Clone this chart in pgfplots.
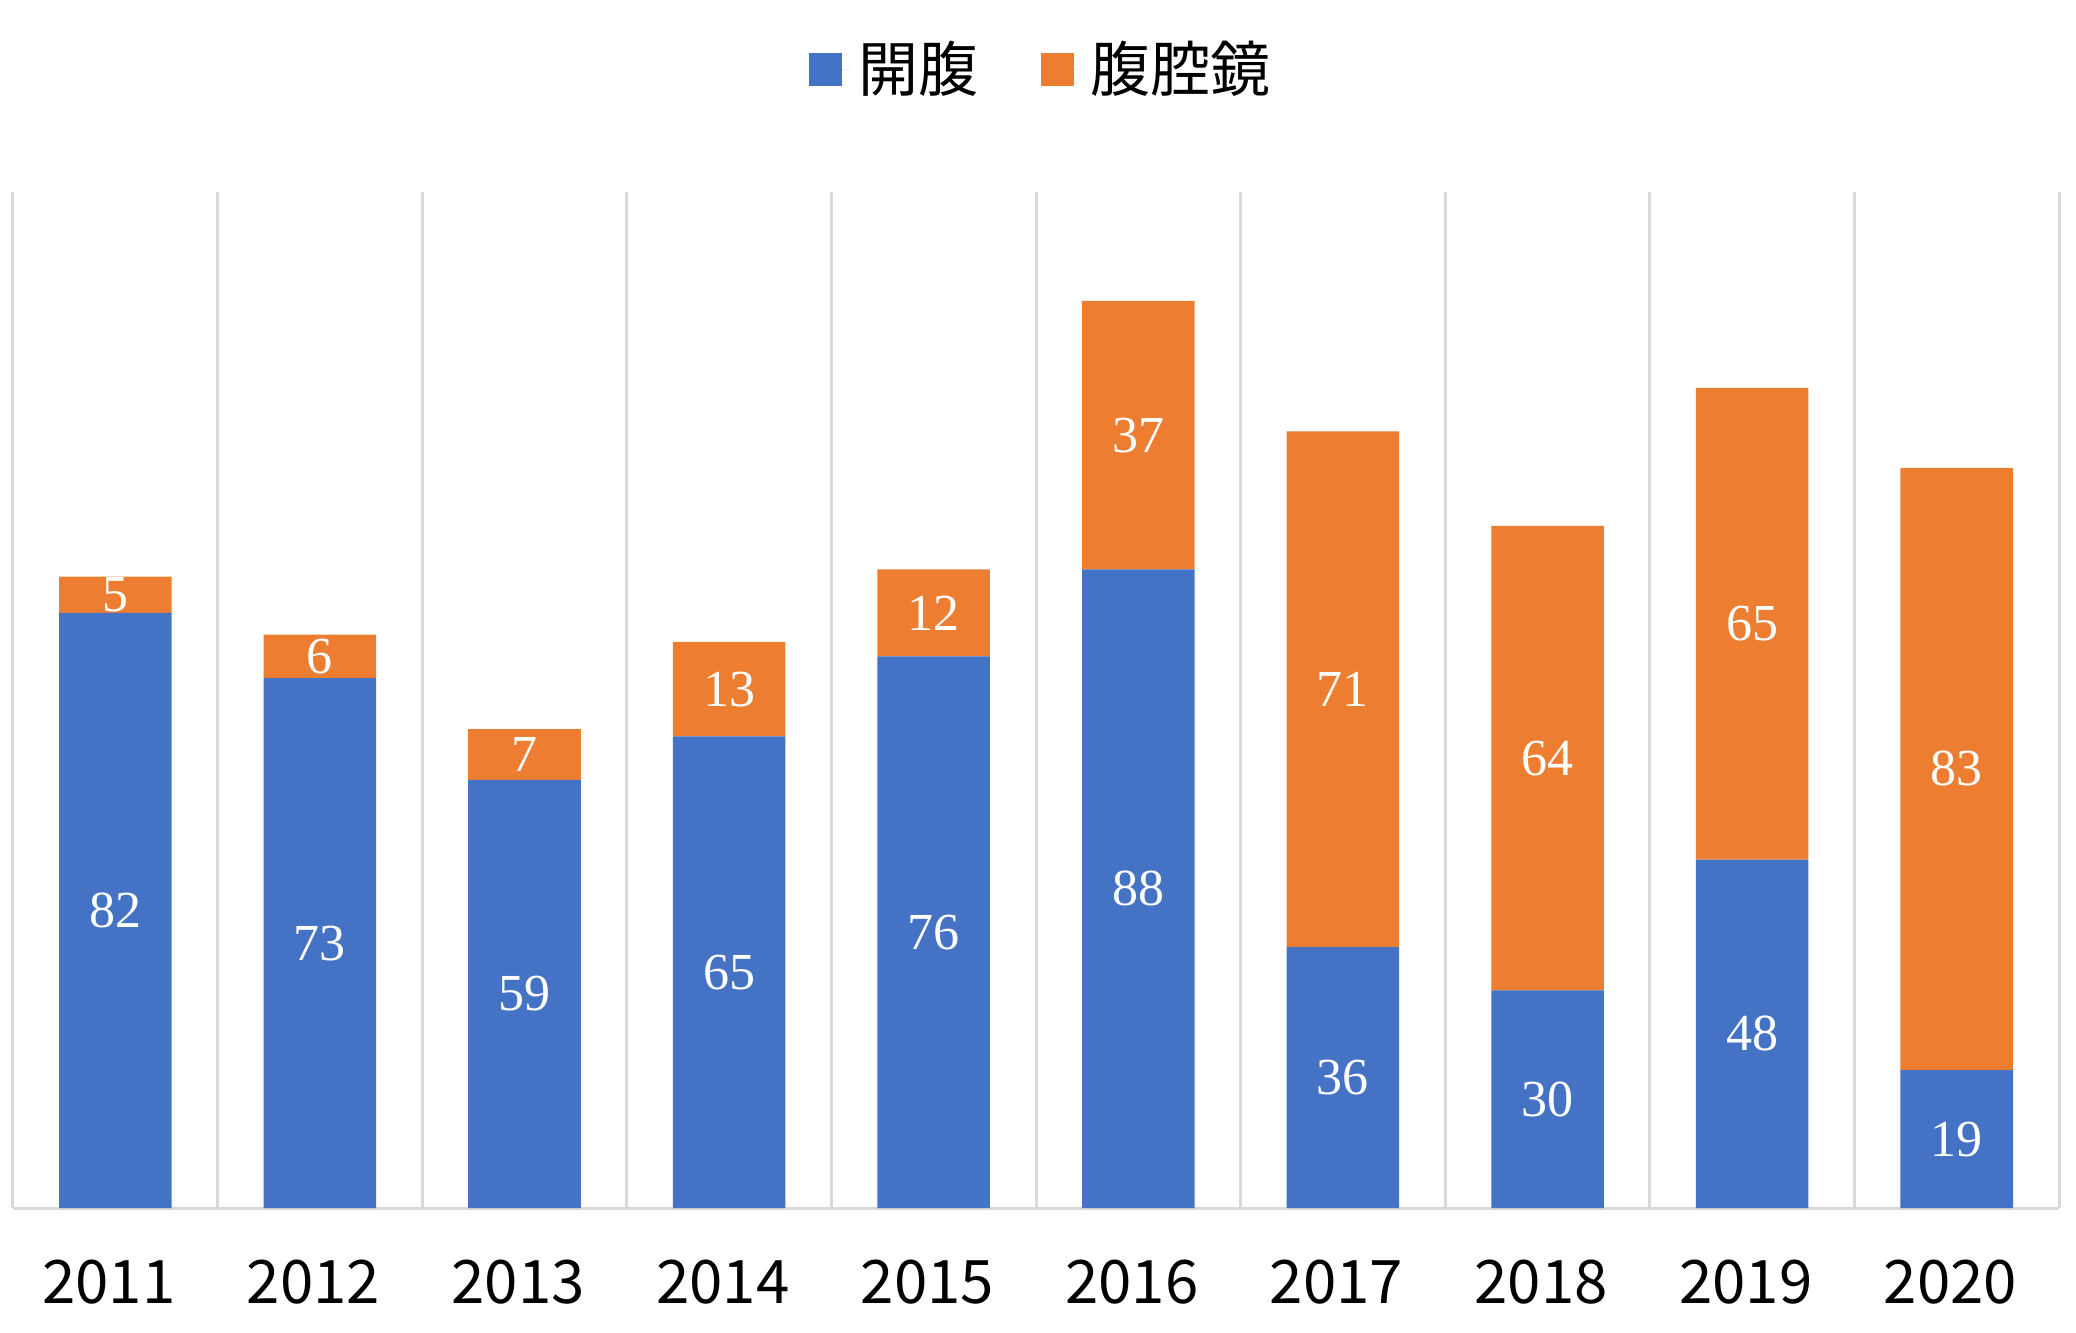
\documentclass[border=0pt]{standalone}
\usepackage{fontspec}
\setmainfont{Noto Sans CJK JP}
\newfontfamily\numfont{Liberation Serif}
\usepackage{pgfplots}
\usepackage{pgfplotstable}
\pgfplotsset{compat=1.18}
\definecolor{kaifuku}{HTML}{4472C4}
\definecolor{fukukuu}{HTML}{ED7D31}
\definecolor{gridgray}{HTML}{D9D9D9}

\pgfplotstableread{
x year open lap
0 2011 82 5
1 2012 73 6
2 2013 59 7
3 2014 65 13
4 2015 76 12
5 2016 88 37
6 2017 36 71
7 2018 30 64
8 2019 48 65
9 2020 19 83
}\surgdata

\begin{document}
\begin{tikzpicture}
\useasboundingbox (-3.25pt,-31pt) rectangle (515.75pt,302pt);
\begin{axis}[
  scale only axis, width=511.5pt, height=254pt,
  ybar stacked, bar width=0.55,
  xmin=-0.5, xmax=9.5, ymin=0, ymax=140,
  xtick={0,...,9},
  xticklabels={2011,2012,2013,2014,2015,2016,2017,2018,2019,2020},
  major tick length=0pt, minor tick length=0pt,
  minor xtick={-0.5,0.5,...,9.5},
  xminorgrids,
  minor grid style={gridgray, line width=0.75pt},
  ytick=\empty,
  axis x line*=bottom, axis y line=none,
  x axis line style={gridgray, line width=0.75pt, -},
  xticklabel style={font=\fontsize{15}{18}\selectfont, anchor=center, yshift=-18.5pt, xshift=-1.6pt},
  /pgf/number format/assume math mode=true,
  nodes near coords,
  every node near coord/.append style={font=\numfont\fontsize{13}{15}\selectfont, text=white, anchor=center},
  legend style={at={(0.5,1)}, anchor=center, yshift=30.75pt, xshift=2pt, draw=none, fill=none,
    font=\fontsize{15}{18}\selectfont,
    /tikz/every even column/.append style={column sep=13.7pt}},
  legend columns=2,
  legend image code/.code={\fill[#1] (0pt,-4.125pt) rectangle (8.25pt,4.125pt);
    \path (8.25pt,0pt) -- (10.3pt,0pt);},
]
\addplot[fill=kaifuku, draw=none, point meta=explicit]
  table[x=x, y=open, meta=open] {\surgdata};
\addlegendentry{開腹}
\addplot[fill=fukukuu, draw=none, point meta=explicit]
  table[x=x, y=lap, meta=lap] {\surgdata};
\addlegendentry{腹腔鏡}
\end{axis}
\end{tikzpicture}
\end{document}
